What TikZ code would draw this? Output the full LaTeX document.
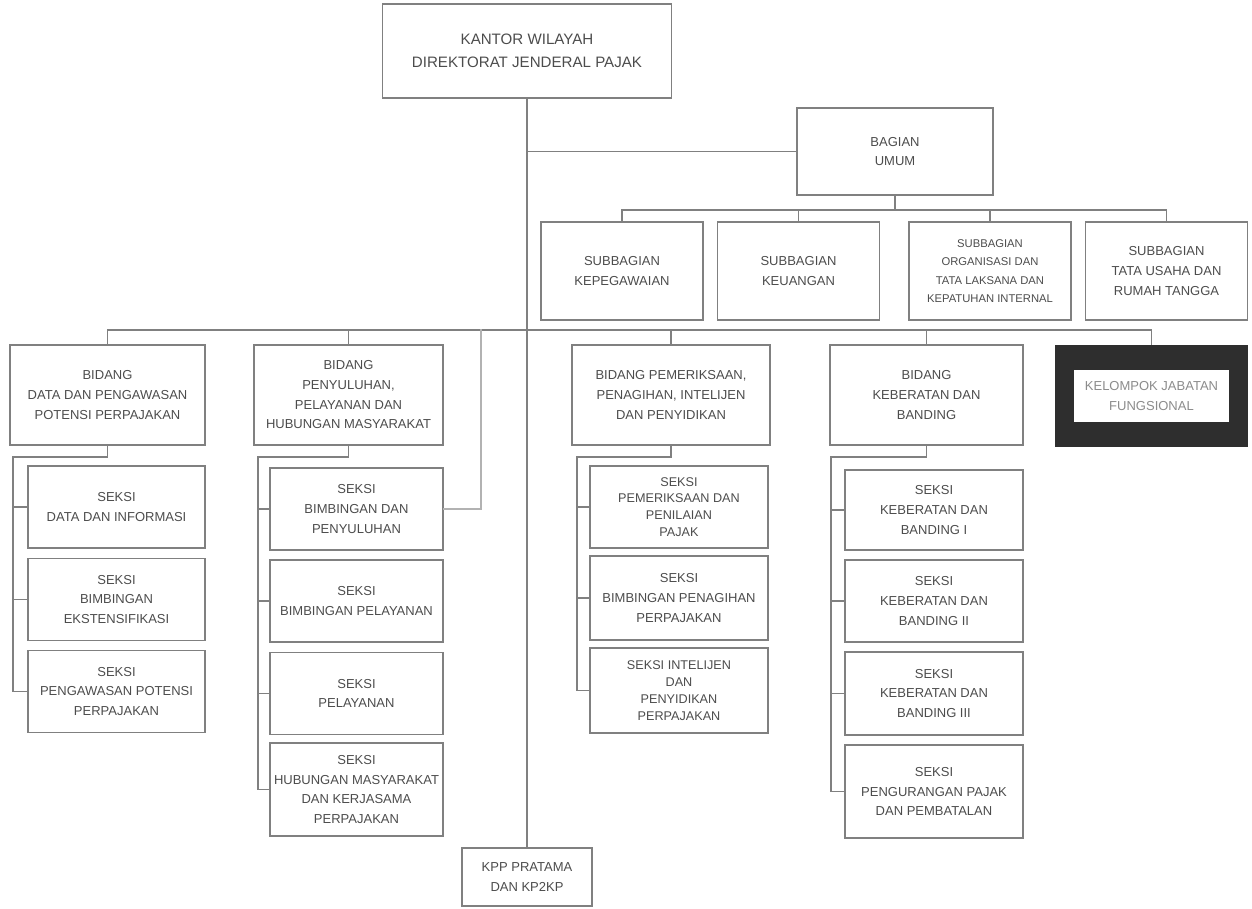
\documentclass[tikz,border=0pt]{standalone}
\usepackage{fontspec}
\setmainfont{Liberation Sans}
\usetikzlibrary{positioning}

\tikzset{
  unit/.style={draw=black!50,line width=0.7pt,align=center,text=black!70,inner sep=1pt,
    font=\fontsize{7.4}{11.2}\selectfont},
  subbox/.style={unit,minimum width=3.24cm,minimum height=1.96cm},
  bidbox/.style={unit,minimum width=3.88cm,minimum height=2cm},
  seksibox/.style={unit,minimum width=3.54cm,minimum height=1.64cm},
  tight/.style={font=\fontsize{7.2}{9.6}\selectfont},
  link/.style={draw=black!50,line width=0.7pt}
}

\begin{document}
\begin{tikzpicture}[x=0.02cm,y=-0.02cm,line cap=rect]
\useasboundingbox (0,0) rectangle (1252,909);

% pimpinan
\node[unit,minimum width=5.78cm,minimum height=1.88cm,font=\fontsize{8.6}{13}\selectfont] (kanwil) at (527,51)
  {KANTOR WILAYAH\\DIREKTORAT JENDERAL PAJAK};
\node[unit,minimum width=3.92cm,minimum height=1.74cm] (umum) at (895,151.5) {BAGIAN\\UMUM};

% subbagian
\node[subbox] (sb1) at (622,271) {SUBBAGIAN\\KEPEGAWAIAN};
\node[subbox] (sb2) at (798.5,271) {SUBBAGIAN\\KEUANGAN};
\node[subbox,font=\fontsize{6.4}{10.5}\selectfont] (sb3) at (990,271)
  {SUBBAGIAN\\ORGANISASI DAN\\TATA LAKSANA DAN\\KEPATUHAN INTERNAL};
\node[subbox] (sb4) at (1166.5,271) {SUBBAGIAN\\TATA USAHA DAN\\RUMAH TANGGA};

% bidang
\node[bidbox,minimum width=3.9cm] (bd1) at (107.5,395) {BIDANG\\DATA DAN PENGAWASAN\\POTENSI PERPAJAKAN};
\node[bidbox,minimum width=3.78cm] (bd2) at (348.5,395) {BIDANG\\PENYULUHAN,\\PELAYANAN DAN\\HUBUNGAN MASYARAKAT};
\node[bidbox,minimum width=3.96cm] (bd3) at (671,395) {BIDANG PEMERIKSAAN,\\PENAGIHAN, INTELIJEN\\DAN PENYIDIKAN};
\node[bidbox,minimum width=3.86cm] (bd4) at (926.5,395) {BIDANG\\KEBERATAN DAN\\BANDING};
\node[fill=black!82,minimum width=3.86cm,minimum height=2.04cm,inner sep=0pt] (fung) at (1151.5,396) {};
\node[fill=white,minimum width=3.1cm,minimum height=1.04cm,inner sep=0pt,align=center,text=black!45,
  font=\fontsize{7.4}{11.2}\selectfont] (fungtxt) at (fung) {KELOMPOK JABATAN\\FUNGSIONAL};

% seksi
\node[seksibox] (s11) at (116.5,507) {SEKSI\\DATA DAN INFORMASI};
\node[seksibox] (s12) at (116.5,599.5) {SEKSI\\BIMBINGAN\\EKSTENSIFIKASI};
\node[seksibox] (s13) at (116.5,691.5) {SEKSI\\PENGAWASAN POTENSI\\PERPAJAKAN};

\node[seksibox,minimum width=3.46cm] (s21) at (356.5,509) {SEKSI\\BIMBINGAN DAN\\PENYULUHAN};
\node[seksibox,minimum width=3.46cm] (s22) at (356.5,601) {SEKSI\\BIMBINGAN PELAYANAN};
\node[seksibox,minimum width=3.46cm] (s23) at (356.5,693.5) {SEKSI\\PELAYANAN};
\node[seksibox,minimum width=3.46cm,minimum height=1.86cm] (s24) at (356.5,789.5)
  {SEKSI\\HUBUNGAN MASYARAKAT\\DAN KERJASAMA\\PERPAJAKAN};

\node[seksibox,tight,minimum width=3.56cm] (s31) at (679,507) {SEKSI\\PEMERIKSAAN DAN\\PENILAIAN\\PAJAK};
\node[seksibox,minimum width=3.56cm,minimum height=1.68cm] (s32) at (679,598) {SEKSI\\BIMBINGAN PENAGIHAN\\PERPAJAKAN};
\node[seksibox,tight,minimum width=3.56cm,minimum height=1.7cm] (s33) at (679,690.5) {SEKSI INTELIJEN\\DAN\\PENYIDIKAN\\PERPAJAKAN};

\node[seksibox,minimum width=3.56cm,minimum height=1.6cm] (s41) at (934,510) {SEKSI\\KEBERATAN DAN\\BANDING I};
\node[seksibox,minimum width=3.56cm] (s42) at (934,601) {SEKSI\\KEBERATAN DAN\\BANDING II};
\node[seksibox,minimum width=3.56cm,minimum height=1.66cm] (s43) at (934,693.5) {SEKSI\\KEBERATAN DAN\\BANDING III};
\node[seksibox,minimum width=3.56cm,minimum height=1.86cm] (s44) at (934,791.5) {SEKSI\\PENGURANGAN PAJAK\\DAN PEMBATALAN};

% kantor di bawahnya
\node[unit,minimum width=2.6cm,minimum height=1.16cm] (kpp) at (527,877) {KPP PRATAMA\\DAN KP2KP};

% garis
\coordinate (busA) at (0,210);
\coordinate (busB) at (0,330);
\draw[link] (kanwil.south) -- (kpp.north);
\draw[link] (kanwil.south |- umum.west) -- (umum.west);
\draw[link] (umum.south) -- (umum.south |- busA);
\draw[link] (sb1.north |- busA) -- (sb4.north |- busA);
\foreach \s in {sb1,sb2,sb3,sb4}
  \draw[link] (\s.north) -- (\s.north |- busA);
\draw[link] (bd1.north |- busB) -- (fung.north |- busB);
\foreach \b in {bd1,bd2,bd3,bd4,fung}
  \draw[link] (\b.north) -- (\b.north |- busB);
\draw[link,draw=black!30] (481,330) |- (s21.east);

% kurung seksi
\coordinate (br1) at (13,457);
\coordinate (br2) at (258,457);
\coordinate (br3) at (577,457);
\coordinate (br4) at (831,457);
\draw[link] (bd1.south) -- (bd1.south |- br1) -- (br1) -- (br1 |- s13.west);
\draw[link] (bd2.south) -- (bd2.south |- br2) -- (br2) -- (br2 |- s24.west);
\draw[link] (bd3.south) -- (bd3.south |- br3) -- (br3) -- (br3 |- s33.west);
\draw[link] (bd4.south) -- (bd4.south |- br4) -- (br4) -- (br4 |- s44.west);
\foreach \s in {s11,s12,s13}
  \draw[link] (br1 |- \s.west) -- (\s.west);
\foreach \s in {s21,s22,s23,s24}
  \draw[link] (br2 |- \s.west) -- (\s.west);
\foreach \s in {s31,s32,s33}
  \draw[link] (br3 |- \s.west) -- (\s.west);
\foreach \s in {s41,s42,s43,s44}
  \draw[link] (br4 |- \s.west) -- (\s.west);
\end{tikzpicture}
\end{document}
